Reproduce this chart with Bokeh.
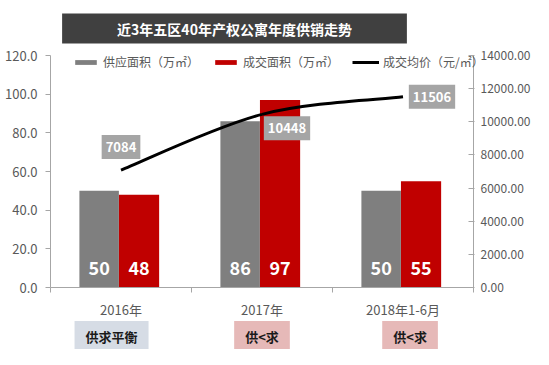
import numpy as np
from bokeh.plotting import figure
from bokeh.models import (Range1d, LinearAxis, FixedTicker, NumeralTickFormatter,
                          Label, Legend, LegendItem, CustomJSTickFormatter)
from bokeh.embed import file_html
from bokeh.resources import INLINE
from bokeh.core.properties import value

# ---------------- data ----------------
categories = ["2016年", "2017年", "2018年1-6月"]
supply = [50, 86, 50]          # 供应面积（万㎡）
deal = [48, 97, 55]            # 成交面积（万㎡）
price = [7084, 10448, 11506]   # 成交均价（元/㎡）
verdicts = ["供求平衡", "供<求", "供<求"]
left_ticks = [0, 20, 40, 60, 80, 100, 120]
right_ticks = [0, 2000, 4000, 6000, 8000, 10000, 12000, 14000]
title_text = "近3年五区40年产权公寓年度供销走势"
legend_labels = ["供应面积（万㎡）", "成交面积（万㎡）", "成交均价（元/㎡）"]

# ---------------- styles / layout ----------------
FONT = "Noto Sans CJK SC"
GRAY = "#7f7f7f"
RED = "#c00000"
AXIS = "#a6a6a6"
TXT = "#595959"
verdict_colors = ["#d6dce5", "#e6b9b8", "#e6b9b8"]
price_offsets = [(0, 23), (25, -14), (29, 0)]
verdict_x_shift = [-0.067, 0.0, 0.05]

W, H = 533, 349
PLOT_L, PLOT_R, PLOT_T, PLOT_B = 50, 473, 55, 287   # pixel box of the value area
LEFT_MAX, RIGHT_MAX = 120, 14000

n = len(categories)
xppu = (PLOT_R - PLOT_L) / n
yppu = (PLOT_B - PLOT_T) / LEFT_MAX
x_start, x_end = -PLOT_L / xppu, n + (W - PLOT_R) / xppu
y_start, y_end = -(H - PLOT_B) / yppu, LEFT_MAX + PLOT_T / yppu
k = RIGHT_MAX / LEFT_MAX

def px_x(px):
    return (px - PLOT_L) / xppu

def px_y(py):
    return (PLOT_B - py) / yppu

xs = [i + 0.5 for i in range(n)]
x_gray = [x - 0.155 for x in xs]
x_red = [x + 0.128 for x in xs]

p = figure(width=W, height=H, output_backend="svg", toolbar_location=None,
           x_range=Range1d(x_start, x_end), y_range=Range1d(y_start, y_end),
           min_border=0, min_border_left=0, min_border_right=0,
           min_border_top=0, min_border_bottom=0)
p.extra_y_ranges = {"price": Range1d(y_start * k, y_end * k)}
p.outline_line_color = None
p.xgrid.visible = False
p.ygrid.visible = False
p.background_fill_color = "white"
p.border_fill_color = "white"

# left axis
ya = p.yaxis[0]
ya.fixed_location = 0
ya.bounds = (0, LEFT_MAX)
ya.ticker = FixedTicker(ticks=left_ticks, minor_ticks=[])
ya.formatter = NumeralTickFormatter(format="0.0")
ya.axis_line_color = AXIS
ya.major_tick_line_color = AXIS
ya.major_tick_out = 5
ya.major_tick_in = 0
ya.major_label_standoff = 8
ya.major_label_text_font = FONT
ya.major_label_text_font_size = "13px"
ya.major_label_text_color = TXT

# right axis
ra = LinearAxis(y_range_name="price", fixed_location=n, bounds=(0, RIGHT_MAX))
ra.ticker = FixedTicker(ticks=right_ticks, minor_ticks=[])
ra.formatter = NumeralTickFormatter(format="0.00")
ra.axis_line_color = AXIS
ra.major_tick_line_color = AXIS
ra.major_tick_out = 1
ra.major_tick_in = 5
ra.major_label_standoff = 6
ra.major_label_text_font = FONT
ra.major_label_text_font_size = "12px"
ra.major_label_text_color = TXT
p.add_layout(ra, "right")

# x axis: labels at centres, tick marks at category boundaries
xa = p.xaxis[0]
xa.fixed_location = 0
xa.bounds = (0, n)
xa.ticker = FixedTicker(ticks=xs, minor_ticks=list(range(n + 1)))
xa.formatter = CustomJSTickFormatter(args=dict(labels=categories),
                                     code="return labels[Math.floor(tick)] || '';")
xa.axis_line_color = AXIS
xa.major_tick_line_color = None
xa.minor_tick_line_color = AXIS
xa.minor_tick_out = 5
xa.minor_tick_in = 0
xa.major_label_standoff = 6
xa.major_label_text_font = FONT
xa.major_label_text_font_size = "13px"
xa.major_label_text_color = TXT

# bars
r_supply = p.vbar(x=x_gray, top=supply, width=0.28, fill_color=GRAY, line_color=None)
r_deal = p.vbar(x=x_red, top=deal, width=0.285, fill_color=RED, line_color=None)

# bar value labels
for xx, vals in ((x_gray, supply), (x_red, deal)):
    p.text(x=xx, y=[0 for _ in vals], text=[str(v) for v in vals], y_offset=-20,
           text_align="center", text_baseline="middle", text_color="white",
           text_font=value(FONT), text_font_size="18px", text_font_style="bold")

# smoothed price line (bezier segments through the data points)
x0, y0, x1, y1, cx0, cy0, cx1, cy1 = ([] for _ in range(8))
for i in range(n - 1):
    a = max(i - 1, 0); b = i; c = i + 1; d = min(i + 2, n - 1)
    x0.append(xs[b]); y0.append(price[b]); x1.append(xs[c]); y1.append(price[c])
    cx0.append(xs[b] + (xs[c] - xs[a]) / 6); cy0.append(price[b] + (price[c] - price[a]) / 6)
    cx1.append(xs[c] - (xs[d] - xs[b]) / 6); cy1.append(price[c] - (price[d] - price[b]) / 6)
r_line = p.bezier(x0=x0, y0=y0, x1=x1, y1=y1, cx0=cx0, cy0=cy0, cx1=cx1, cy1=cy1,
                  y_range_name="price", line_color="black", line_width=3)

# price labels
for xx, v, (dx, dy) in zip(xs, price, price_offsets):
    p.add_layout(Label(x=xx, y=v, y_range_name="price", text=str(v), x_offset=dx, y_offset=dy,
                       text_align="center", text_baseline="middle", text_color="white",
                       text_font=FONT, text_font_size="13px", text_font_style="bold",
                       background_fill_color="#a5a5a5",
                       padding=dict(left=4, right=4, top=7, bottom=7)))

# legend
legend = Legend(items=[LegendItem(label=legend_labels[0], renderers=[r_supply]),
                       LegendItem(label=legend_labels[1], renderers=[r_deal]),
                       LegendItem(label=legend_labels[2], renderers=[r_line])],
                orientation="horizontal", location=(72, H - 70), padding=0, margin=0,
                spacing=13, glyph_width=27, glyph_height=6, label_standoff=4, label_height=16,
                label_text_font=FONT, label_text_font_size="12px", label_text_color=TXT,
                background_fill_alpha=0, border_line_color=None)
p.add_layout(legend)

# title bar
p.add_layout(Label(x=px_x(234), y=px_y(28), text=title_text, text_align="center",
                   text_baseline="middle", text_color="white", text_font=FONT,
                   text_font_size="14px", text_font_style="bold",
                   background_fill_color="#404040",
                   padding=dict(left=55, right=55, top=5, bottom=5)))

# verdict boxes under categories
for xx, t, col, sh in zip(xs, verdicts, verdict_colors, verdict_x_shift):
    p.add_layout(Label(x=xx + sh, y=px_y(336), text=t, text_align="center",
                       text_baseline="middle", text_color="#1a1a1a", text_font=FONT,
                       text_font_size="13px", text_font_style="bold",
                       background_fill_color=col,
                       padding=dict(left=11, right=11, top=6, bottom=6)))

open("out.html", "w").write(file_html(p, INLINE))
